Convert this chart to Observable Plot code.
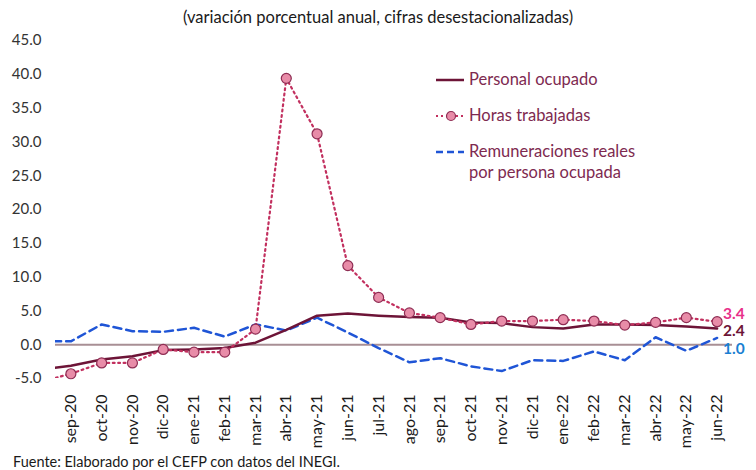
<!DOCTYPE html>
<html>
<head>
<meta charset="utf-8">
<script src="https://cdn.jsdelivr.net/npm/d3@7"></script>
<script src="https://cdn.jsdelivr.net/npm/@observablehq/plot@0.6"></script>
<style>
  html, body { margin: 0; padding: 0; background: #fff; }
  body { width: 756px; height: 470px; overflow: hidden; font-family: Lato, "Open Sans", sans-serif; }
  #wrap { position: relative; width: 756px; }
  #title { height: 30px; line-height: 34px; text-align: center; font-size: 16.5px; color: #1a1a1a; }
  #caption { font-size: 14.5px; color: #1a1a1a; padding-left: 13px; line-height: 16px; }
  #legend { position: absolute; left: 436px; top: 0; font-size: 16.5px; color: #7e2a50; }
  .lg { position: absolute; white-space: nowrap; display: flex; align-items: center; }
  .lg svg { margin-right: 5px; }
  #chart svg [aria-label^="x-axis"] text { font-size: 16px; fill: #1a1a1a; }
  #chart svg [aria-label^="y-axis"] text { font-size: 15px; fill: #333; }
</style>
</head>
<body>
<div id="wrap">
  <div id="title">(variación porcentual anual, cifras desestacionalizadas)</div>
  <div id="chart"></div>
  <div id="caption">Fuente: Elaborado por el CEFP con datos del INEGI.</div>
  <div id="legend"></div>
</div>
<script>
// Months (ago-20 is only the clipped start of the lines, not labelled)
const months = ["ago-20","sep-20","oct-20","nov-20","dic-20","ene-21","feb-21","mar-21","abr-21","may-21","jun-21","jul-21","ago-21","sep-21","oct-21","nov-21","dic-21","ene-22","feb-22","mar-22","abr-22","may-22","jun-22"];
const personal = [-3.7,-3.1,-2.2,-1.7,-0.8,-0.7,-0.5,0.3,2.2,4.3,4.6,4.3,4.1,4.0,3.3,3.2,2.6,2.4,3.0,3.0,2.9,2.7,2.4];
const horas    = [-5.5,-4.3,-2.7,-2.7,-0.7,-1.1,-1.1,2.3,39.4,31.2,11.7,7.0,4.7,4.0,3.0,3.5,3.5,3.7,3.5,2.9,3.3,4.0,3.4];
const remun    = [0.5,0.5,3.0,2.0,1.9,2.5,1.2,3.0,2.1,4.0,1.8,-0.5,-2.6,-2.0,-3.2,-3.9,-2.3,-2.4,-1.0,-2.3,1.1,-0.9,1.0];
const yTicks = [-5,0,5,10,15,20,25,30,35,40,45];
const seriesNames = ["Personal ocupado","Horas trabajadas","Remuneraciones reales por persona ocupada"];

const rows = months.map((m, i) => ({i, m, personal: personal[i], horas: horas[i], remun: remun[i]}));
const last = rows[rows.length - 1];

const cPersonal = "#6d1437", cHoras = "#c2305f", cRemun = "#1f55d6";

const chart = Plot.plot({
  width: 756,
  height: 424,
  marginLeft: 55,
  marginRight: 24,
  marginTop: 10,
  marginBottom: 76,
  style: {fontFamily: "Lato, 'Open Sans', sans-serif", background: "white"},
  x: {type: "linear", domain: [0.5, 22.5], ticks: d3.range(1, months.length), tickFormat: i => months[i],
      tickRotate: -90, tickSize: 0, tickPadding: 16, label: null},
  y: {domain: [-5, 45], ticks: yTicks, tickFormat: d => d.toFixed(1), tickSize: 0, tickPadding: 14, label: null},
  marks: [
    Plot.ruleY([0], {stroke: "#a88f95", strokeWidth: 2}),
    Plot.line(rows, {x: "i", y: "remun", stroke: cRemun, strokeWidth: 2.5, strokeDasharray: "8,5", clip: true}),
    Plot.line(rows, {x: "i", y: "personal", stroke: cPersonal, strokeWidth: 2.5, clip: true}),
    Plot.line(rows, {x: "i", y: "horas", stroke: cHoras, strokeWidth: 2.2, strokeDasharray: "1.8,3.6", clip: true}),
    Plot.dot(rows.slice(1), {x: "i", y: "horas", r: 5, fill: "#e88ca8", stroke: "#8e2d53", strokeWidth: 1.2}),
    Plot.text([last], {x: "i", y: "horas", text: d => d.horas.toFixed(1), dx: 6, dy: -8, textAnchor: "start", fill: "#e8308a", fontWeight: "bold", fontSize: 15.5}),
    Plot.text([last], {x: "i", y: "personal", text: d => d.personal.toFixed(1), dx: 6, dy: 3, textAnchor: "start", fill: cPersonal, fontWeight: "bold", fontSize: 15.5}),
    Plot.text([last], {x: "i", y: "remun", text: d => d.remun.toFixed(1), dx: 6, dy: 11, textAnchor: "start", fill: "#1a7fd2", fontWeight: "bold", fontSize: 15.5})
  ]
});
document.getElementById("chart").appendChild(chart);

// Legend overlay
const lg = document.getElementById("legend");
const samples = [
  `<svg width="28" height="10"><line x1="0" y1="5" x2="28" y2="5" stroke="${cPersonal}" stroke-width="2.5"/></svg>`,
  `<svg width="28" height="12"><line x1="0" y1="6" x2="28" y2="6" stroke="${cHoras}" stroke-width="2" stroke-dasharray="2,3"/><circle cx="15" cy="6" r="4.5" fill="#e88ca8" stroke="#8e2d53" stroke-width="1.2"/></svg>`,
  `<svg width="28" height="10"><line x1="0" y1="5" x2="28" y2="5" stroke="${cRemun}" stroke-width="2.5" stroke-dasharray="7,4"/></svg>`
];
const tops = [69, 105, 141];
seriesNames.forEach((name, k) => {
  const d = document.createElement("div");
  d.className = "lg";
  d.style.top = tops[k] + "px";
  if (k === 2) {
    d.style.alignItems = "flex-start";
    d.innerHTML = `<div style="height:21px;display:flex;align-items:center">${samples[k]}</div><div style="line-height:21px">Remuneraciones reales<br>por persona ocupada</div>`;
  } else {
    d.innerHTML = samples[k] + `<span style="line-height:21px">${name}</span>`;
  }
  lg.appendChild(d);
});
</script>
</body>
</html>
